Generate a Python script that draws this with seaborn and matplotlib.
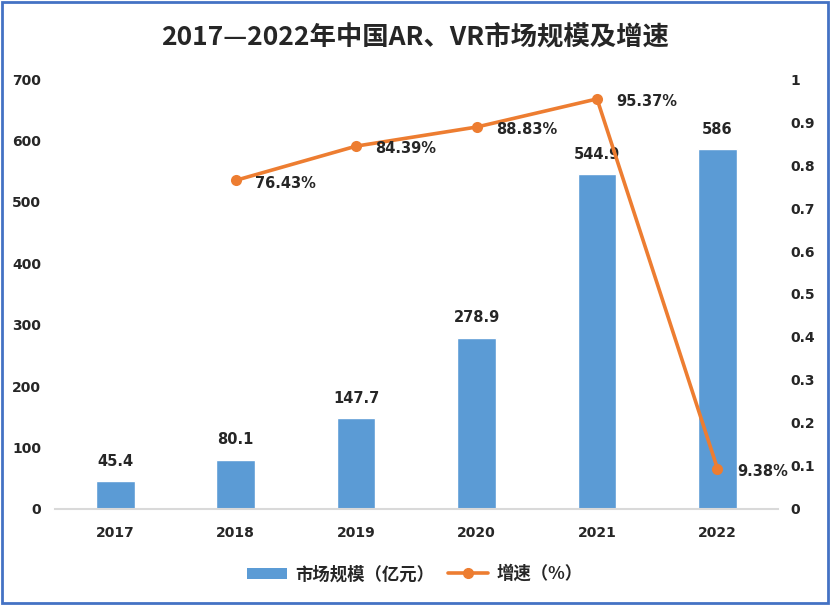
import numpy as np
import pandas as pd
import matplotlib
matplotlib.use("Agg")
import matplotlib.pyplot as plt
from matplotlib.patches import Patch, Rectangle
from matplotlib.lines import Line2D
from matplotlib.ticker import FuncFormatter
import seaborn as sns

# data
years = ["2017", "2018", "2019", "2020", "2021", "2022"]
market_size = [45.4, 80.1, 147.7, 278.9, 544.9, 586]
growth_years = ["2018", "2019", "2020", "2021", "2022"]
growth = [0.7643, 0.8439, 0.8883, 0.9537, 0.0938]

bar_color = "#5B9BD5"
line_color = "#ED7D31"
cjk = ["Noto Sans CJK SC", "DejaVu Sans"]

sns.set_theme(style="white")
plt.rcParams["font.family"] = ["DejaVu Sans", "Noto Sans CJK SC"]
plt.rcParams["font.weight"] = "bold"

fig = plt.figure(figsize=(8.3, 6.05), dpi=100)
ax = fig.add_axes([0.0663, 0.1587, 0.8707, 0.7107])

df = pd.DataFrame({"year": years, "size": market_size})
sns.barplot(data=df, x="year", y="size", order=years, color=bar_color,
            width=0.32, saturation=1, ax=ax)
ax.bar_label(ax.containers[0], labels=[f"{v:g}" for v in market_size],
             padding=9, fontsize=10.5, fontweight="bold")
ax.set_ylim(0, 700)
ax.set_xlim(-0.5, 5.5)
ax.set_yticks(np.arange(0, 701, 100))
ax.set_xlabel("")
ax.set_ylabel("")

ax2 = ax.twinx()
pos = [years.index(y) for y in growth_years]
sns.lineplot(x=pos, y=growth, ax=ax2, color=line_color, linewidth=2.6,
             marker="o", markersize=8, markeredgewidth=0)
for x, v in zip(pos, growth):
    ax2.annotate(f"{v*100:.2f}%", (x, v), xytext=(14, -2), textcoords="offset points",
                 ha="left", va="center", fontsize=10.5, fontweight="bold")
ax2.set_ylim(0, 1)
ax2.set_xlim(-0.5, 5.5)
ax2.set_yticks(np.arange(0, 1.01, 0.1))
ax2.yaxis.set_major_formatter(FuncFormatter(lambda v, p: f"{round(v, 1):g}"))

for a in (ax, ax2):
    for s in a.spines.values():
        s.set_visible(False)
    a.grid(False)
ax.spines["bottom"].set_visible(True)
ax.spines["bottom"].set_color("#D9D9D9")
ax.spines["bottom"].set_linewidth(1.5)

ax.tick_params(axis="y", length=0, pad=10, labelsize=10)
ax.tick_params(axis="x", length=0, pad=12, labelsize=10)
ax2.tick_params(axis="y", length=0, pad=9, labelsize=10)
for lab in ax.get_xticklabels() + ax.get_yticklabels() + ax2.get_yticklabels():
    lab.set_fontweight("bold")

fig.text(0.5, 0.937, "2017—2022年中国AR、VR市场规模及增速", ha="center", va="center",
         fontsize=19, fontweight="bold", family=cjk)

handles = [Patch(facecolor=bar_color, edgecolor="none"),
           Line2D([0], [0], color=line_color, lw=2.6, marker="o", markersize=7)]
fig.legend(handles, ["市场规模（亿元）", "增速（%）"], loc="center",
           bbox_to_anchor=(0.5, 0.051), ncol=2, frameon=False,
           handlelength=2.3, handleheight=0.6, columnspacing=0.8, handletextpad=0.5,
           prop={"weight": "bold", "size": 12.5, "family": cjk})

fig.patches.append(Rectangle((0.002, 0.003), 0.995, 0.994, transform=fig.transFigure,
                             fill=False, edgecolor="#4472C4", linewidth=2))

fig.savefig("out.png", dpi=100)
